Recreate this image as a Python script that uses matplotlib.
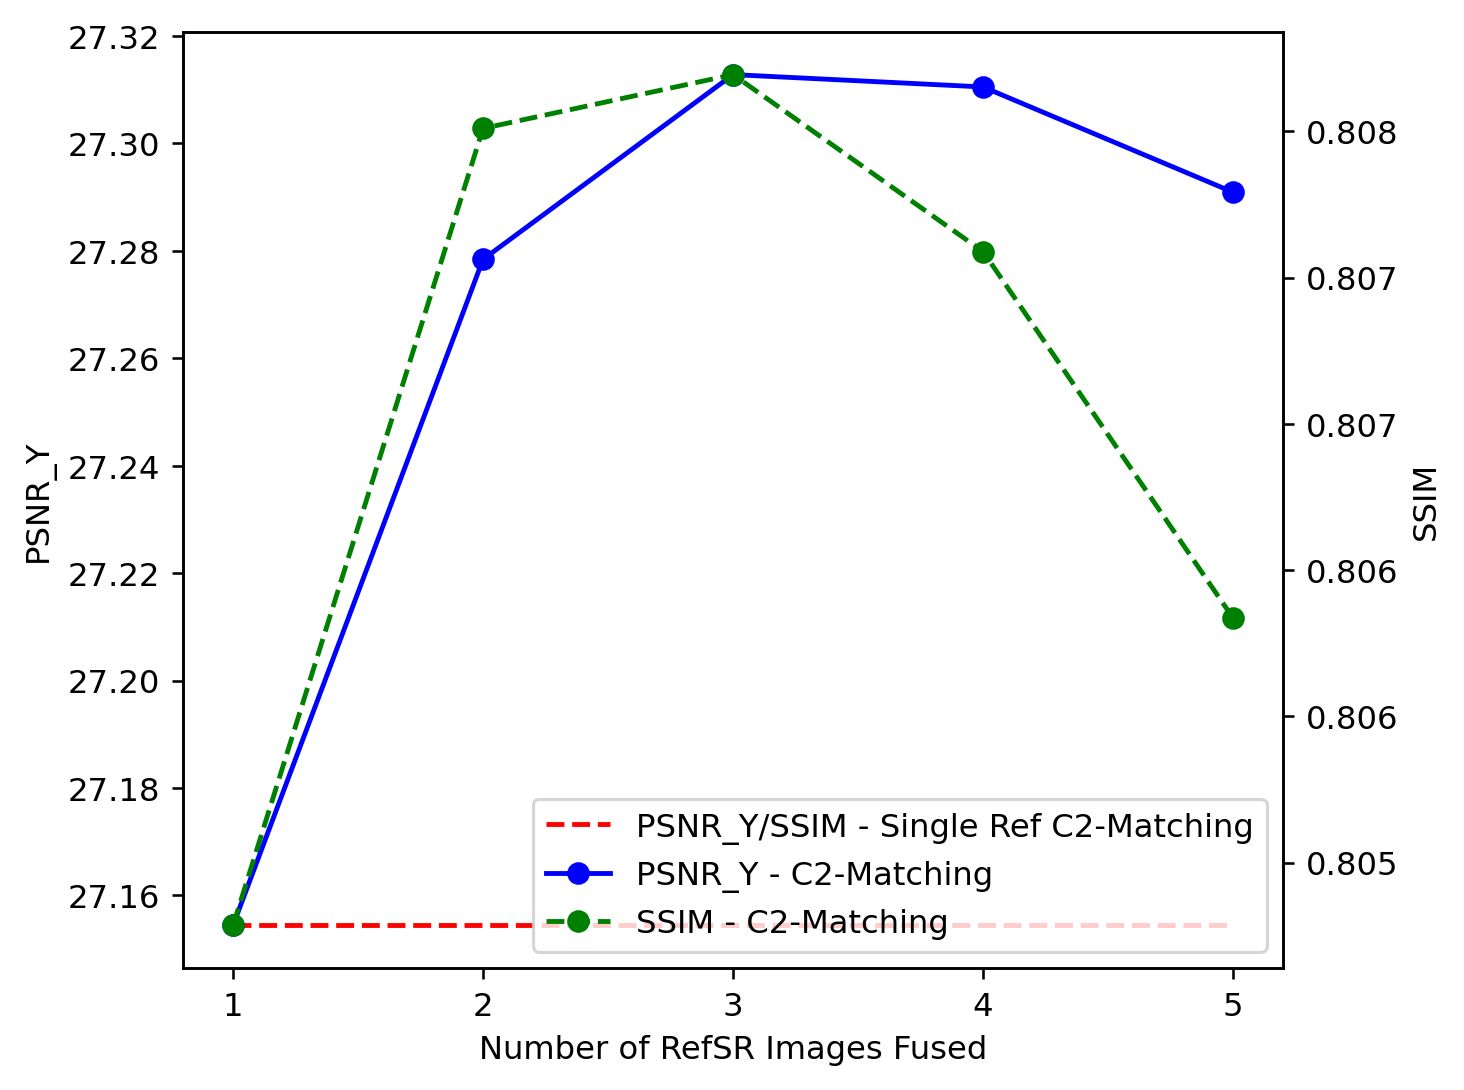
import matplotlib
matplotlib.use("Agg")
import matplotlib.pyplot as plt

n_refs = [1, 2, 3, 4, 5]
psnr_y = [27.1544, 27.2784, 27.3128, 27.3105, 27.2909]
ssim = [0.805285, 0.808010, 0.808194, 0.807589, 0.806336]
single_ref_psnr = 27.1544

ssim_ticks = [0.8055, 0.8060, 0.8065, 0.8070, 0.8075, 0.8080]
ssim_labels = ["0.805", "0.806", "0.806", "0.807", "0.807", "0.808"]

fig, ax1 = plt.subplots(figsize=(6.297, 4.692), dpi=232.5)
fig.subplots_adjust(left=0.125, right=0.8764, bottom=0.1118, top=0.9698)

l0, = ax1.plot(n_refs, [single_ref_psnr] * len(n_refs), 'r--',
               label='PSNR_Y/SSIM - Single Ref C2-Matching')
l1, = ax1.plot(n_refs, psnr_y, 'b-o', label='PSNR_Y - C2-Matching')
ax1.set_xlabel('Number of RefSR Images Fused')
ax1.set_ylabel('PSNR_Y')
ax1.set_xticks(n_refs)

ax2 = ax1.twinx()
l2, = ax2.plot(n_refs, ssim, 'g--o', label='SSIM - C2-Matching')
ax2.set_ylabel('SSIM')
ax2.set_yticks(ssim_ticks)
ax2.set_yticklabels(ssim_labels)

ax2.legend(handles=[l0, l1, l2], loc='lower right')

fig.savefig('out.png')
